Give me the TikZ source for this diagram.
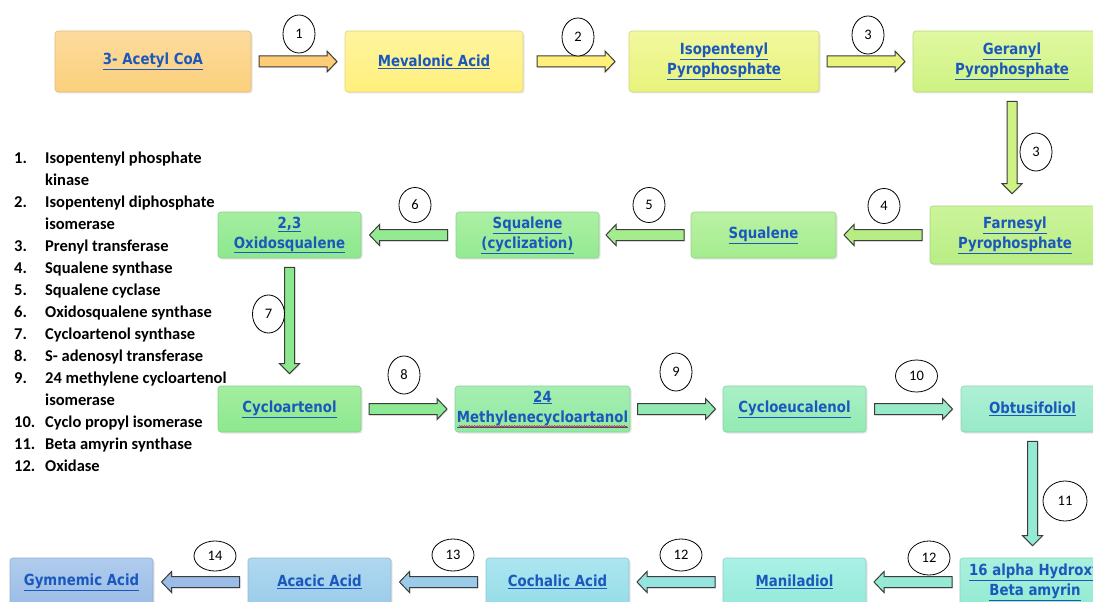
\documentclass[tikz,border=0pt]{standalone}
\usepackage{fontspec}
\setmainfont{Carlito}
\newfontfamily\boxfont{DejaVu Sans}[FakeStretch=0.87]
\usepackage{tikz}
\usetikzlibrary{calc,shapes.geometric,shadows,decorations.pathmorphing}
\definecolor{lnk}{HTML}{1A58BE}
\definecolor{arrline}{HTML}{3C3C3C}
\definecolor{c1t}{HTML}{FDDB9E}\definecolor{c1b}{HTML}{FCD07C}
\definecolor{c2t}{HTML}{FFF49E}\definecolor{c2b}{HTML}{FFF07C}
\definecolor{c3t}{HTML}{F2F89E}\definecolor{c3b}{HTML}{E8F37C}
\definecolor{c4t}{HTML}{E0F8A0}\definecolor{c4b}{HTML}{CEF283}
\definecolor{c5t}{HTML}{CCF49A}\definecolor{c5b}{HTML}{B8ED84}
\definecolor{c6t}{HTML}{BAF2A4}\definecolor{c6b}{HTML}{A4EC8E}
\definecolor{c7t}{HTML}{ACF0A4}\definecolor{c7b}{HTML}{94EA92}
\definecolor{c8t}{HTML}{A4EEA0}\definecolor{c8b}{HTML}{8CE88E}
\definecolor{c10t}{HTML}{A6EEB2}\definecolor{c10b}{HTML}{90EAA0}
\definecolor{c11t}{HTML}{AAF0C6}\definecolor{c11b}{HTML}{92EAB2}
\definecolor{c12t}{HTML}{AEF0D6}\definecolor{c12b}{HTML}{98EAC8}
\definecolor{c13t}{HTML}{AAF0DE}\definecolor{c13b}{HTML}{94EAD2}
\definecolor{c14t}{HTML}{AAF0E6}\definecolor{c14b}{HTML}{96EADA}
\definecolor{c15t}{HTML}{ACE6F0}\definecolor{c15b}{HTML}{96DCE8}
\definecolor{c16t}{HTML}{B0D8F0}\definecolor{c16b}{HTML}{9ACCEA}
\definecolor{c17t}{HTML}{B0CCEE}\definecolor{c17b}{HTML}{9ABCE6}
\tikzstyle{stage} = [rectangle, rounded corners=3pt, minimum height=46pt,
    align=center, text=lnk, inner sep=2pt,
    font=\boxfont\bfseries\fontsize{15.3}{20}\selectfont,
    drop shadow={opacity=0.2, shadow xshift=1.5pt, shadow yshift=-1.5pt}]
\tikzstyle{enz} = [ellipse, draw=black, fill=white, line width=0.8pt,
    minimum width=32pt, minimum height=38pt, inner sep=0pt,
    font=\fontsize{14.5}{16}\selectfont]
\tikzstyle{enzw} = [enz, minimum width=42pt, minimum height=32pt]
\tikzstyle{blk} = [draw=arrline, line width=1pt,
    drop shadow={opacity=0.2, shadow xshift=1pt, shadow yshift=-1pt}]
\tikzstyle{spell} = [red, line width=0.5pt, decorate,
    decoration={snake, amplitude=0.7pt, segment length=2.5pt}]
\tikzset{tint/.style 2 args={top color=#1, bottom color=#2, draw=#2!75!gray, line width=0.6pt}}
\newcommand{\lk}[1]{\underline{#1}}
% block arrow along a row, centred in the gap between two boxes
\newcommand{\blkh}[3]{%
  \draw[blk, fill=#3] let \p1=#1, \p2=#2, \n1={sign(\x2-\x1)}, \n2={(\x1+\x2)/2} in
    ({(\n2-\n1*39)*1pt},{\y1+5.5pt}) -- ({(\n2+\n1*29)*1pt},{\y1+5.5pt})
    -- ({(\n2+\n1*29)*1pt},{\y1+10.5pt}) -- ({(\n2+\n1*39)*1pt},{\y1})
    -- ({(\n2+\n1*29)*1pt},{\y1-10.5pt}) -- ({(\n2+\n1*29)*1pt},{\y1-5.5pt})
    -- ({(\n2-\n1*39)*1pt},{\y1-5.5pt}) -- cycle;}
% block arrow going down between two rows
\newcommand{\blkv}[3]{%
  \draw[blk, fill=#3] let \p1=#1, \p2=#2 in
    ({\x1-5pt},{\y1-9pt}) -- ({\x1-5pt},{\y2+22pt}) -- ({\x1-10pt},{\y2+22pt})
    -- ({\x1},{\y2+12pt}) -- ({\x1+10pt},{\y2+22pt}) -- ({\x1+5pt},{\y2+22pt})
    -- ({\x1+5pt},{\y1-9pt}) -- cycle;}
\begin{document}
\begin{tikzpicture}[x=1pt, y=1pt]
\useasboundingbox (0,0) rectangle (1093,-602);
\clip (0,0) rectangle (1093,-602);
\node[stage, tint={c1t}{c1b}, minimum width=196pt, minimum height=61pt] (acoa) at (153,-61.5) {\lk{3- Acetyl CoA}};
\node[stage, tint={c2t}{c2b}, minimum width=178pt, minimum height=61pt] (meva) at (434,-61.5) {\lk{Mevalonic Acid}};
\node[stage, tint={c3t}{c3b}, minimum width=190pt, minimum height=61pt] (ipp) at (724,-61.5) {\lk{Isopentenyl}\\\lk{Pyrophosphate}};
\node[stage, tint={c4t}{c4b}, minimum width=198pt, minimum height=61pt] (gpp) at (1012,-61.5) {\lk{Geranyl}\\\lk{Pyrophosphate}};
\node[stage, tint={c5t}{c5b}, minimum width=170pt, minimum height=58pt] (fpp) at (1015,-235) {\lk{Farnesyl}\\\lk{Pyrophosphate}};
\node[stage, tint={c6t}{c6b}, minimum width=145pt] (squa) at (763.5,-235) {\lk{Squalene}};
\node[stage, tint={c7t}{c7b}, minimum width=143pt] (scyc) at (527.5,-235) {\lk{Squalene}\\\lk{(cyclization)}};
\node[stage, tint={c8t}{c8b}, minimum width=143pt] (oxid) at (289.5,-235) {\lk{2,3}\\\lk{Oxidosqualene}};
\node[stage, tint={c8t}{c8b}, minimum width=143pt] (cyar) at (289.5,-409) {\lk{Cycloartenol}};
\node[stage, tint={c10t}{c10b}, minimum width=175pt, inner sep=0pt] (m24) at (542.5,-409) {\lk{24}\\\lk{Methylenecycloartanol}};
\node[stage, tint={c11t}{c11b}, minimum width=143pt] (cyeu) at (794.5,-409) {\lk{Cycloeucalenol}};
\node[stage, tint={c12t}{c12b}, minimum width=143pt] (obtu) at (1032.5,-409) {\lk{Obtusifoliol}};
\node[stage, tint={c13t}{c13b}, minimum width=150pt, minimum height=48pt] (hbam) at (1035,-582) {\lk{16 alpha Hydroxy}\\\lk{Beta amyrin}};
\node[stage, tint={c14t}{c14b}, minimum width=143pt, minimum height=48pt] (mani) at (794.5,-582) {\lk{Maniladiol}};
\node[stage, tint={c15t}{c15b}, minimum width=143pt, minimum height=48pt] (coch) at (557.5,-582) {\lk{Cochalic Acid}};
\node[stage, tint={c16t}{c16b}, minimum width=143pt, minimum height=48pt] (acac) at (319.5,-582) {\lk{Acacic Acid}};
\node[stage, tint={c17t}{c17b}, minimum width=143pt, minimum height=48pt] (gymn) at (81.5,-582) {\lk{Gymnemic Acid}};
\draw[spell] ($(m24.south west)+(4,6)$) -- ($(m24.south east)+(-3,6)$);

\blkh{(acoa.east)}{(meva.west)}{c1b!95!orange}
\blkh{(meva.east)}{(ipp.west)}{c2b}
\blkh{(ipp.east)}{(gpp.west)}{c3b}
\blkv{(gpp.south)}{(fpp.north)}{c4b}
\blkh{(fpp.west)}{(squa.east)}{c5b}
\blkh{(squa.west)}{(scyc.east)}{c6b}
\blkh{(scyc.west)}{(oxid.east)}{c7b}
\blkv{(oxid.south)}{(cyar.north)}{c8b}
\blkh{(cyar.east)}{(m24.west)}{c8b!70!c10b}
\blkh{(m24.east)}{(cyeu.west)}{c11b}
\blkh{(cyeu.east)}{(obtu.west)}{c12b}
\blkv{(obtu.south)}{(hbam.north)}{c13b}
\blkh{(hbam.west)}{(mani.east)}{c13b}
\blkh{(mani.west)}{(coch.east)}{c14b!60!c15b}
\blkh{(coch.west)}{(acac.east)}{c16b}
\blkh{(acac.west)}{(gymn.east)}{c17b}

\node[enz] (e1) at (299,-34) {1};
\node[enz] (e2) at (578,-37) {2};
\node[enz] (e3) at (868,-35) {3};
\node[enz] (e3b) at (1036,-152) {3};
\node[enz, minimum height=35pt] (e4) at (884,-206) {4};
\node[enz, minimum height=35pt] (e5) at (649,-205) {5};
\node[enz, minimum height=35pt] (e6) at (415,-205) {6};
\node[enz] (e7) at (268.5,-314) {7};
\node[enz] (e8) at (404,-375) {8};
\node[enz] (e9) at (676,-372) {9};
\node[enzw] (e10) at (916.5,-376) {10};
\node[enzw, minimum width=44pt, minimum height=40pt] (e11) at (1065,-501) {11};
\node[enzw, minimum height=34pt] (e12) at (929,-558) {12};
\node[enzw] (e12b) at (681,-555) {12};
\node[enzw] (e13) at (453,-555) {13};
\node[enzw, minimum height=30pt] (e14) at (215,-556) {14};

\node[anchor=north west, inner sep=0pt, font=\bfseries\fontsize{16.5}{22}\selectfont] (legend) at (14,-148) {%
  \begin{tabular}{@{}p{31pt}@{}l@{}}
    1. & Isopentenyl phosphate\\
       & kinase\\
    2. & Isopentenyl diphosphate\\
       & isomerase\\
    3. & Prenyl transferase\\
    4. & Squalene synthase\\
    5. & Squalene cyclase\\
    6. & Oxidosqualene synthase\\
    7. & Cycloartenol synthase\\
    8. & S- adenosyl transferase\\
    9. & 24 methylene cycloartenol\\
       & isomerase\\
    10. & Cyclo propyl isomerase\\
    11. & Beta amyrin synthase\\
    12. & Oxidase
  \end{tabular}};
\end{tikzpicture}
\end{document}
